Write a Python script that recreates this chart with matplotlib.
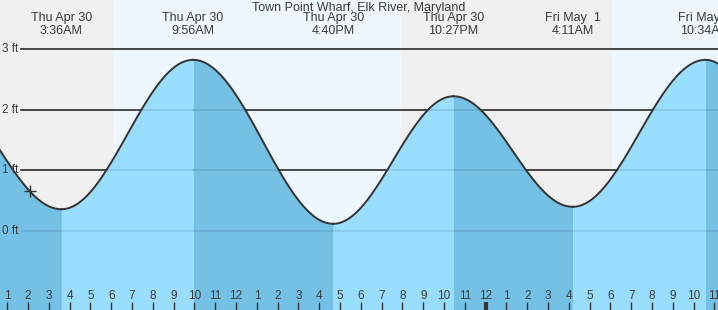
import numpy as np
import matplotlib.pyplot as plt

plt.rcParams['font.family'] = ['Liberation Sans', 'DejaVu Sans']

# hours counted from Thu Apr 30 00:00
tide_hours = [-2.6, 3.6, 9.933, 16.667, 22.45, 28.183, 34.567, 40.8]
tide_ft = [2.46, 0.36, 2.82, 0.12, 2.22, 0.40, 2.82, 0.10]
tide_days = ['', 'Thu Apr 30', 'Thu Apr 30', 'Thu Apr 30', 'Thu Apr 30', 'Fri May  1', 'Fri May  1', '']
tide_clock = ['', '3:36AM', '9:56AM', '4:40PM', '10:27PM', '4:11AM', '10:34AM', '']

daylight = [(6.07, 19.93), (30.07, 48.0)]
now_hour, now_ft = 2.09, 0.655
ft_levels = [0, 1, 2, 3]

title = 'Town Point Wharf, Elk River, Maryland'

NIGHT = '#f0f0f0'
DAY = '#eef6fe'
RISING = '#99ddff'
FALLING = '#74c1e5'
INK = '#333333'
TEXT = '#3a3a3a'

x0, x1 = 0.649, 35.17
y0, y1 = -1.30, 3.806

fig = plt.figure(figsize=(7.18, 3.10), dpi=100)
ax = fig.add_axes([0, 0, 1, 1])
ax.set_xlim(x0, x1)
ax.set_ylim(y0, y1)
ax.axis('off')

ax.axvspan(x0, x1, color=NIGHT, zorder=0)
for a, b in daylight:
    ax.axvspan(a, b, color=DAY, lw=0, zorder=0)

# grid lines under the water
line_start = x0 + 21 / 718 * (x1 - x0)
for lv in ft_levels:
    if lv > 0:
        ax.plot([line_start, x1], [lv, lv], color=INK, lw=1.2, zorder=1)
    ax.text(x0 + 2 / 718 * (x1 - x0), lv, f'{lv} ft', ha='left', va='center',
            fontsize=8.5, color=TEXT, zorder=5)

# cosine curve between consecutive high/low waters
for i in range(len(tide_hours) - 1):
    ta, tb = tide_hours[i], tide_hours[i + 1]
    ha, hb = tide_ft[i], tide_ft[i + 1]
    t = np.linspace(ta, tb, 120)
    h = hb + (ha - hb) * (1 + np.cos(np.pi * (t - ta) / (tb - ta))) / 2
    col = RISING if hb > ha else FALLING
    ax.fill_between(t, y0, h, color=col, lw=0, zorder=2)
    ax.plot(t, h, color=INK, lw=1.4, zorder=4)

for lv in ft_levels:
    ax.plot([line_start, x1], [lv, lv], color='black', alpha=0.1, lw=1.2, zorder=3)

ax.plot(now_hour, now_ft, marker='+', ms=8, mew=1.0, color=INK, zorder=6)

# labels for each high/low
for hr, d, c in zip(tide_hours, tide_days, tide_clock):
    if d and x0 < hr < x1:
        ax.text(hr, 1 - 18.5 / 310, d, ha='center', va='center', fontsize=9,
                color=TEXT, transform=ax.get_xaxis_transform())
        ax.text(hr, 1 - 31 / 310, c, ha='center', va='center', fontsize=9,
                color=TEXT, transform=ax.get_xaxis_transform())

ax.text(0.5, 1 - 7.5 / 310, title, ha='center', va='center', fontsize=9,
        color=TEXT, transform=ax.transAxes)

# hour ticks along the bottom
for hr in range(1, 36):
    lab = (hr - 1) % 12 + 1
    ax.plot([hr, hr], [0, 8 / 310], color=INK, lw=3 if hr % 24 == 0 else 1,
            transform=ax.get_xaxis_transform(), zorder=6, solid_capstyle='butt')
    ax.text(hr, 14 / 310, str(lab), ha='center', va='center', fontsize=8.5,
            color=TEXT, transform=ax.get_xaxis_transform(), zorder=6)

fig.savefig('out.png', dpi=100)
